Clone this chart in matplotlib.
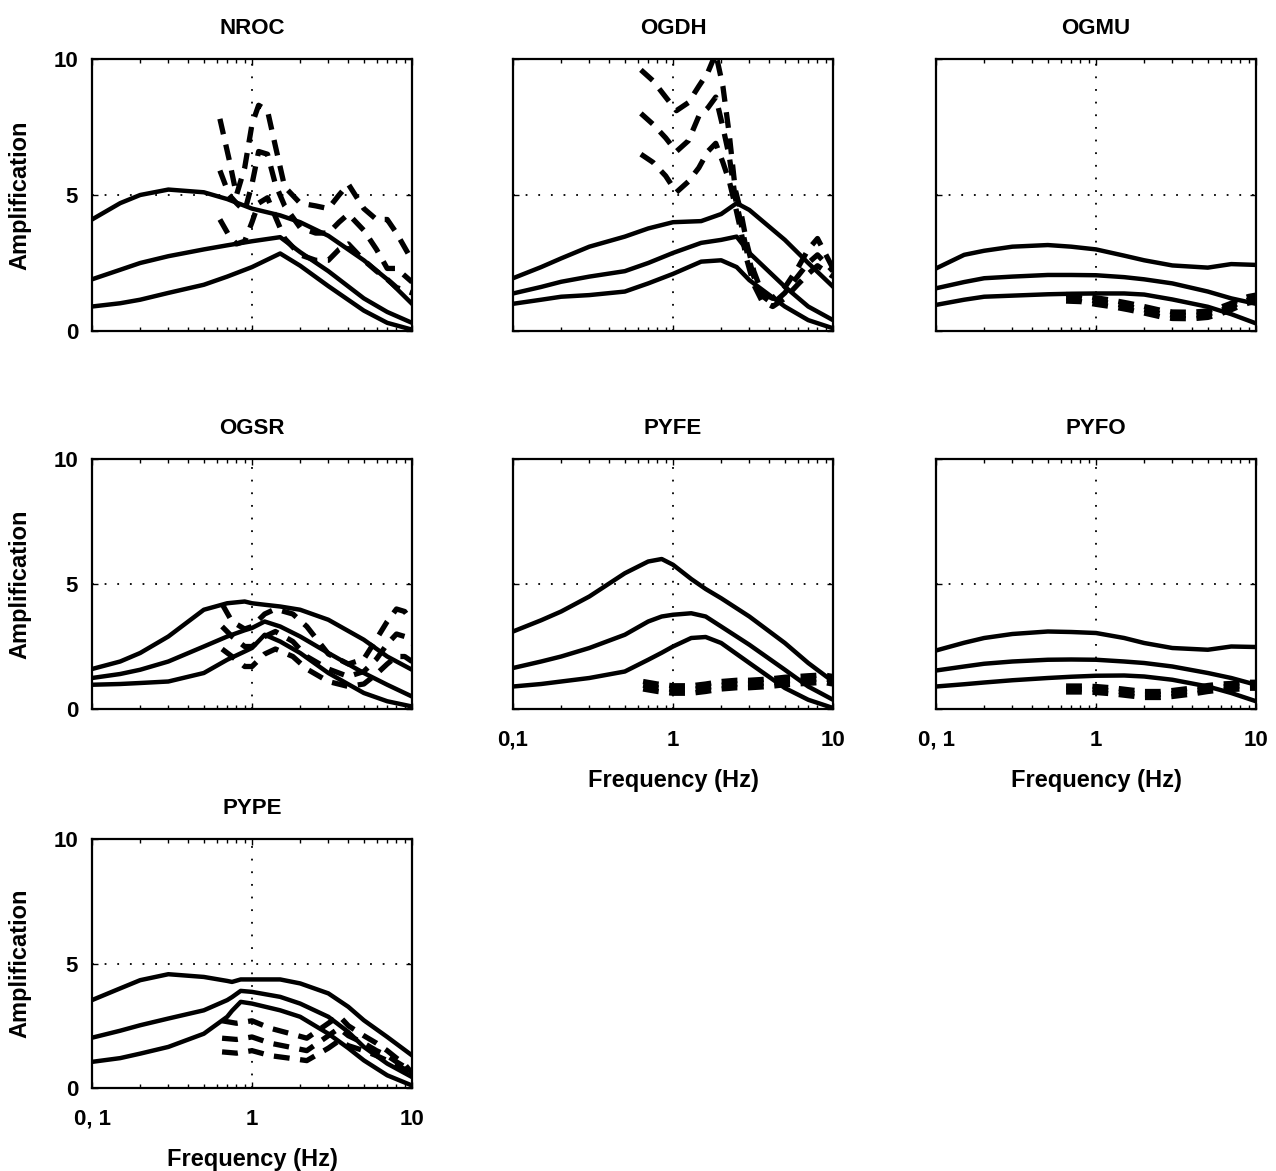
import matplotlib
matplotlib.use('Agg')
import matplotlib.pyplot as plt
from matplotlib.ticker import FixedLocator, LogLocator, NullFormatter

plt.rcParams['font.family'] = ['Liberation Sans', 'DejaVu Sans']
plt.rcParams['font.weight'] = 'bold'

# station names, in panel order
stations = ['NROC', 'OGDH', 'OGMU', 'OGSR', 'PYFE', 'PYFO', 'PYPE']

# ---- NROC
nroc_f = [0.1, 0.15, 0.2, 0.3, 0.5, 0.7, 1, 1.5, 2, 3, 5, 7, 10]
nroc_top = [4.1, 4.7, 5.0, 5.2, 5.1, 4.85, 4.5, 4.25, 4.0, 3.5, 2.6, 1.9, 1.0]
nroc_mid = [1.9, 2.25, 2.5, 2.75, 3.0, 3.15, 3.3, 3.45, 2.9, 2.2, 1.2, 0.7, 0.3]
nroc_low = [0.9, 1.02, 1.15, 1.4, 1.7, 2.0, 2.35, 2.85, 2.4, 1.65, 0.75, 0.3, 0.05]
nroc_fd = [0.63, 0.72, 0.8, 0.9, 1.0, 1.1, 1.25, 1.4, 1.6, 2.0, 2.5, 3.0, 3.5, 4.0, 5.0, 6.0, 7.0, 8.0, 10]
nroc_d1 = [7.8, 6.3, 5.0, 6.0, 7.6, 8.3, 8.1, 6.8, 5.3, 4.7, 4.6, 4.5, 5.0, 5.4, 4.5, 4.1, 4.1, 3.6, 2.6]
nroc_d2 = [5.9, 5.0, 4.7, 4.4, 5.4, 6.6, 6.5, 5.4, 4.6, 3.8, 3.6, 3.6, 4.0, 4.3, 3.7, 3.0, 2.3, 2.3, 1.8]
nroc_d3 = [4.1, 3.5, 3.2, 3.3, 4.0, 4.7, 4.9, 4.2, 3.4, 2.8, 2.6, 2.6, 3.0, 3.2, 2.6, 2.2, 1.9, 1.6, 1.4]

# ---- OGDH
ogdh_f = [0.1, 0.15, 0.2, 0.3, 0.5, 0.7, 1, 1.5, 2, 2.5, 3, 5, 7, 10]
ogdh_top = [1.94, 2.35, 2.67, 3.1, 3.47, 3.77, 4.0, 4.04, 4.3, 4.7, 4.45, 3.35, 2.5, 1.63]
ogdh_mid = [1.38, 1.62, 1.81, 2.0, 2.2, 2.5, 2.87, 3.24, 3.35, 3.47, 2.87, 1.63, 0.9, 0.4]
ogdh_low = [1.0, 1.15, 1.26, 1.32, 1.45, 1.75, 2.1, 2.55, 2.6, 2.35, 1.87, 0.9, 0.4, 0.1]
ogdh_fd = [0.63, 0.75, 0.9, 1.05, 1.25, 1.45, 1.65, 1.85, 2.05, 2.25, 2.45, 2.65, 2.9, 3.2, 3.6, 4.2, 5.0, 6.0, 7.0, 8.0, 10]
ogdh_d1 = [9.6, 9.2, 8.6, 8.1, 8.4, 9.0, 9.5, 10.2, 9.0, 7.2, 5.2, 4.4, 3.2, 2.2, 1.4, 1.2, 1.6, 2.3, 3.0, 3.4, 2.3]
ogdh_d2 = [8.0, 7.6, 7.1, 6.6, 7.0, 7.9, 8.2, 8.6, 7.5, 6.4, 4.9, 4.0, 2.9, 2.0, 1.3, 1.0, 1.4, 2.0, 2.5, 2.8, 2.2]
ogdh_d3 = [6.5, 6.2, 5.7, 5.1, 5.5, 6.0, 6.6, 6.9, 6.2, 5.5, 4.6, 3.7, 2.6, 1.7, 1.1, 0.9, 1.2, 1.7, 2.1, 2.4, 2.0]

# ---- OGMU
ogmu_f = [0.1, 0.15, 0.2, 0.3, 0.5, 0.7, 1, 1.5, 2, 3, 5, 7, 10]
ogmu_top = [2.3, 2.8, 2.95, 3.1, 3.16, 3.1, 3.0, 2.77, 2.6, 2.41, 2.33, 2.46, 2.43]
ogmu_mid = [1.57, 1.8, 1.94, 2.0, 2.06, 2.06, 2.05, 1.98, 1.9, 1.75, 1.45, 1.2, 1.0]
ogmu_low = [0.96, 1.15, 1.26, 1.3, 1.35, 1.37, 1.38, 1.38, 1.34, 1.16, 0.89, 0.62, 0.28]
ogmu_fd = [0.65, 0.8, 1, 1.3, 1.6, 2, 2.5, 3, 4, 5, 6, 7, 8, 9, 10]
ogmu_d1 = [1.34, 1.32, 1.22, 1.12, 1.02, 0.9, 0.77, 0.7, 0.69, 0.74, 0.87, 1.02, 1.17, 1.27, 1.32]
ogmu_d2 = [1.22, 1.2, 1.1, 1.0, 0.9, 0.78, 0.65, 0.58, 0.57, 0.62, 0.75, 0.9, 1.05, 1.15, 1.2]
ogmu_d3 = [1.1, 1.08, 0.98, 0.88, 0.78, 0.66, 0.53, 0.46, 0.45, 0.5, 0.63, 0.78, 0.93, 1.03, 1.08]

# ---- OGSR
ogsr_f = [0.1, 0.15, 0.2, 0.3, 0.5, 0.7, 0.9, 1, 1.2, 1.5, 2, 3, 5, 7, 10]
ogsr_top = [1.6, 1.9, 2.24, 2.9, 3.97, 4.23, 4.3, 4.23, 4.17, 4.1, 3.97, 3.57, 2.77, 2.1, 1.57]
ogsr_mid = [1.24, 1.4, 1.57, 1.9, 2.5, 2.9, 3.15, 3.24, 3.5, 3.3, 2.9, 2.24, 1.44, 0.97, 0.5]
ogsr_low = [0.97, 1.0, 1.04, 1.1, 1.44, 1.97, 2.3, 2.44, 2.97, 2.7, 2.24, 1.44, 0.64, 0.31, 0.1]
ogsr_fd = [0.65, 0.75, 0.9, 1.0, 1.2, 1.4, 1.8, 2.2, 3, 4, 5, 6, 7, 8, 9, 10]
ogsr_d1 = [4.2, 3.5, 3.2, 3.3, 3.8, 4.0, 3.8, 3.3, 2.2, 1.8, 2.0, 2.8, 3.5, 4.0, 3.9, 3.5]
ogsr_d2 = [3.3, 2.9, 2.5, 2.5, 2.9, 3.1, 2.7, 2.1, 1.6, 1.3, 1.5, 2.0, 2.6, 3.0, 2.9, 2.6]
ogsr_d3 = [2.4, 2.1, 1.7, 1.7, 2.2, 2.4, 2.1, 1.6, 1.1, 0.9, 1.0, 1.4, 1.8, 2.1, 2.1, 1.9]

# ---- PYFE
pyfe_f = [0.1, 0.15, 0.2, 0.3, 0.5, 0.7, 0.85, 1, 1.3, 1.6, 2, 3, 5, 7, 10]
pyfe_top = [3.1, 3.55, 3.9, 4.5, 5.43, 5.9, 6.0, 5.77, 5.2, 4.8, 4.43, 3.7, 2.64, 1.84, 1.1]
pyfe_mid = [1.64, 1.9, 2.1, 2.44, 2.97, 3.5, 3.7, 3.77, 3.83, 3.7, 3.3, 2.57, 1.57, 0.9, 0.37]
pyfe_low = [0.9, 1.0, 1.1, 1.24, 1.5, 1.97, 2.25, 2.5, 2.84, 2.88, 2.64, 1.84, 0.84, 0.37, 0.04]
pyfe_fd = [0.65, 0.8, 1, 1.3, 1.6, 2, 2.5, 3, 4, 5, 6, 7, 8, 9, 10]
pyfe_d1 = [1.1, 1.0, 0.93, 0.93, 1.0, 1.1, 1.15, 1.15, 1.2, 1.27, 1.3, 1.33, 1.35, 1.35, 1.3]
pyfe_d2 = [0.95, 0.85, 0.78, 0.78, 0.85, 0.95, 1.0, 1.0, 1.05, 1.12, 1.15, 1.18, 1.2, 1.2, 1.15]
pyfe_d3 = [0.8, 0.7, 0.63, 0.63, 0.7, 0.8, 0.85, 0.85, 0.9, 0.97, 1.0, 1.03, 1.05, 1.05, 1.0]

# ---- PYFO
pyfo_f = [0.1, 0.15, 0.2, 0.3, 0.5, 0.7, 1, 1.5, 2, 3, 5, 7, 10]
pyfo_top = [2.34, 2.65, 2.84, 3.0, 3.1, 3.08, 3.04, 2.84, 2.64, 2.44, 2.37, 2.5, 2.48]
pyfo_mid = [1.54, 1.7, 1.81, 1.9, 1.97, 1.98, 1.97, 1.9, 1.84, 1.7, 1.44, 1.24, 0.97]
pyfo_low = [0.9, 0.99, 1.06, 1.15, 1.24, 1.29, 1.33, 1.34, 1.3, 1.17, 0.9, 0.64, 0.31]
pyfo_fd = [0.65, 0.8, 1, 1.3, 1.6, 2, 2.5, 3, 4, 5, 6, 7, 8, 9, 10]
pyfo_d1 = [0.92, 0.92, 0.9, 0.84, 0.77, 0.7, 0.7, 0.74, 0.84, 0.94, 1.0, 1.02, 1.04, 1.07, 1.07]
pyfo_d2 = [0.8, 0.8, 0.78, 0.72, 0.65, 0.58, 0.58, 0.62, 0.72, 0.82, 0.88, 0.9, 0.92, 0.95, 0.95]
pyfo_d3 = [0.68, 0.68, 0.66, 0.6, 0.53, 0.46, 0.46, 0.5, 0.6, 0.7, 0.76, 0.78, 0.8, 0.83, 0.83]

# ---- PYPE
pype_f = [0.1, 0.15, 0.2, 0.3, 0.5, 0.7, 0.75, 0.85, 1, 1.5, 2, 3, 4, 5, 7, 10]
pype_top = [3.53, 4.0, 4.33, 4.57, 4.46, 4.3, 4.26, 4.36, 4.36, 4.36, 4.2, 3.8, 3.26, 2.72, 2.05, 1.31]
pype_mid = [2.02, 2.3, 2.52, 2.79, 3.12, 3.53, 3.65, 3.9, 3.86, 3.66, 3.39, 2.86, 2.25, 1.65, 0.98, 0.44]
pype_low = [1.05, 1.2, 1.38, 1.65, 2.18, 2.86, 3.1, 3.46, 3.39, 3.12, 2.86, 2.18, 1.6, 1.11, 0.51, 0.1]
pype_fd = [0.65, 0.8, 1, 1.3, 1.7, 2.2, 3, 3.5, 4, 5, 6, 7, 8, 9, 10]
pype_d1 = [2.7, 2.6, 2.7, 2.4, 2.2, 2.0, 2.6, 2.9, 2.5, 2.1, 1.8, 1.5, 1.2, 0.95, 0.6]
pype_d2 = [2.0, 1.95, 2.05, 1.8, 1.65, 1.5, 2.1, 2.4, 2.1, 1.8, 1.5, 1.3, 1.05, 0.85, 0.5]
pype_d3 = [1.45, 1.4, 1.5, 1.3, 1.2, 1.1, 1.6, 1.9, 1.7, 1.5, 1.3, 1.1, 0.9, 0.75, 0.4]

solid = {
    'NROC': (nroc_f, [nroc_top, nroc_mid, nroc_low]),
    'OGDH': (ogdh_f, [ogdh_top, ogdh_mid, ogdh_low]),
    'OGMU': (ogmu_f, [ogmu_top, ogmu_mid, ogmu_low]),
    'OGSR': (ogsr_f, [ogsr_top, ogsr_mid, ogsr_low]),
    'PYFE': (pyfe_f, [pyfe_top, pyfe_mid, pyfe_low]),
    'PYFO': (pyfo_f, [pyfo_top, pyfo_mid, pyfo_low]),
    'PYPE': (pype_f, [pype_top, pype_mid, pype_low]),
}
dashed = {
    'NROC': (nroc_fd, [nroc_d1, nroc_d2, nroc_d3]),
    'OGDH': (ogdh_fd, [ogdh_d1, ogdh_d2, ogdh_d3]),
    'OGMU': (ogmu_fd, [ogmu_d1, ogmu_d2, ogmu_d3]),
    'OGSR': (ogsr_fd, [ogsr_d1, ogsr_d2, ogsr_d3]),
    'PYFE': (pyfe_fd, [pyfe_d1, pyfe_d2, pyfe_d3]),
    'PYFO': (pyfo_fd, [pyfo_d1, pyfo_d2, pyfo_d3]),
    'PYPE': (pype_fd, [pype_d1, pype_d2, pype_d3]),
}

# x tick labels per panel (others hidden)
xlabels = {'PYFE': ['0,1', '1', '10'], 'PYFO': ['0, 1', '1', '10'], 'PYPE': ['0, 1', '1', '10']}

W, H = 1276, 1171
fig = plt.figure(figsize=(W / 100, H / 100), dpi=100)

lefts = [92, 513, 936]
rows = [(59, 331), (459, 709), (839, 1088)]

for i, name in enumerate(stations):
    r, c = divmod(i, 3)
    top, bot = rows[r]
    ax = fig.add_axes([lefts[c] / W, 1 - bot / H, 320 / W, (bot - top) / H])
    ax.set_xscale('log')
    ax.set_xlim(0.1, 10)
    ax.set_ylim(0, 10)

    f, ys = solid[name]
    for y in ys:
        ax.plot(f, y, color='black', lw=3.2, solid_joinstyle='round')
    fd, yd = dashed[name]
    for y in yd:
        ax.plot(fd, y, color='black', lw=3.8, dashes=(3, 2))

    ax.xaxis.set_major_locator(FixedLocator([0.1, 1, 10]))
    ax.xaxis.set_minor_locator(LogLocator(base=10, subs=range(2, 10)))
    ax.xaxis.set_minor_formatter(NullFormatter())
    ax.set_yticks([0, 5, 10])
    ax.grid(True, which='major', color='black', lw=1.3, linestyle=(0, (1, 6)))
    ax.tick_params(which='both', direction='in', top=True, right=True, labelsize=16)
    ax.tick_params(which='major', length=4, width=1)
    ax.tick_params(which='minor', length=3, width=1)
    ax.tick_params(axis='x', pad=15)
    ax.tick_params(axis='y', pad=10)
    for s in ax.spines.values():
        s.set_linewidth(1.6)

    ax.set_title(name, fontsize=16, fontweight='bold', pad=18)

    if c == 0:
        ax.set_yticklabels(['0', '5', '10'])
        ax.set_ylabel('Amplification', fontsize=17, fontweight='bold')
        ax.yaxis.set_label_coords(-0.19, 0.5)
    else:
        ax.set_yticklabels([])

    if name in xlabels:
        ax.set_xticklabels(xlabels[name])
        ax.set_xlabel('Frequency (Hz)', fontsize=17, fontweight='bold')
        ax.xaxis.set_label_coords(0.5, -0.24)
    else:
        ax.set_xticklabels([])

fig.savefig('out.png', dpi=100)
